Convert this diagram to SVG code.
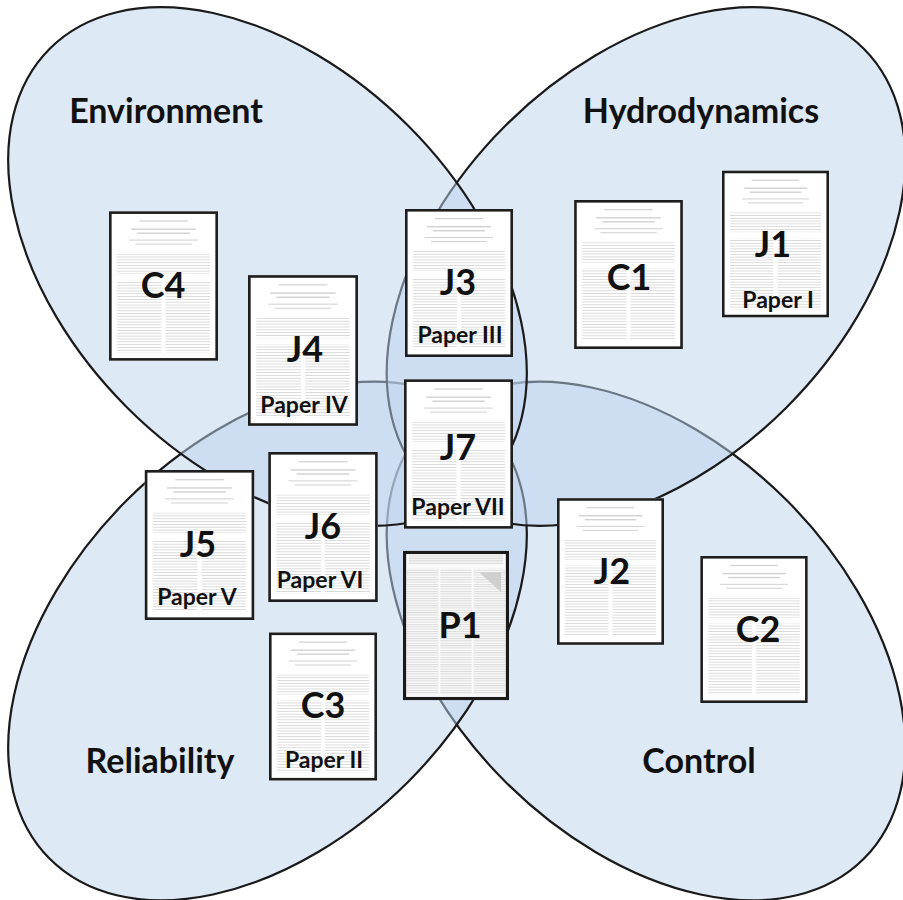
<svg xmlns="http://www.w3.org/2000/svg" xmlns:xlink="http://www.w3.org/1999/xlink" width="903" height="900" viewBox="0 0 903 900">
  <style>
    .set { fill: #bed3ee; fill-opacity: 0.5; stroke: #1a1a1a; stroke-width: 2.2; }
    .area { font-family: Lato, "Open Sans", "Liberation Sans", sans-serif; font-weight: bold; font-size: 34px; fill: #111; text-anchor: middle; }
    .pid { font-family: Lato, "Open Sans", "Liberation Sans", sans-serif; font-weight: bold; font-size: 36px; fill: #111; text-anchor: middle; }
    .pname { font-family: Lato, "Open Sans", "Liberation Sans", sans-serif; font-weight: bold; font-size: 23px; fill: #111; text-anchor: middle; }
    .frame { fill: none; stroke: #1e1e1e; stroke-width: 2.6; }
    .ink { fill: #b4b4b4; }
  </style>
  <defs>
    <pattern id="rows" width="4" height="2.8" patternUnits="userSpaceOnUse">
      <rect width="4" height="0.9" fill="#a8a8a8"/>
    </pattern>
    <pattern id="rowsDense" width="4" height="2.4" patternUnits="userSpaceOnUse">
      <rect width="4" height="1" fill="#a8a8a8"/>
    </pattern>
    <!-- generic two-column article page -->
    <symbol id="page" viewBox="0 0 108 148" width="108" height="148">
      <rect width="108" height="148" fill="#fff"/>
      <g class="ink" opacity="0.6">
        <rect x="30" y="9" width="48" height="1.2"/>
        <rect x="22" y="17" width="64" height="1.4"/>
        <rect x="28" y="21" width="52" height="1.4"/>
        <rect x="20" y="28" width="68" height="1"/>
        <rect x="26" y="32" width="56" height="1"/>
      </g>
      <rect x="8" y="42" width="92" height="20" fill="url(#rows)" opacity="0.45"/>
      <rect x="8" y="68" width="44" height="72" fill="url(#rows)" opacity="0.45"/>
      <rect x="56" y="68" width="44" height="72" fill="url(#rows)" opacity="0.45"/>
      <rect x="1.3" y="1.3" width="105.4" height="145.4" class="frame"/>
    </symbol>
    <!-- conference poster page -->
    <symbol id="poster" viewBox="0 0 108 152" width="108" height="152">
      <rect width="108" height="152" fill="#fafafa"/>
      <rect x="6" y="4" width="96" height="10" fill="url(#rowsDense)" opacity="0.5"/>
      <rect x="4" y="18" width="32" height="128" fill="url(#rowsDense)" opacity="0.4"/>
      <rect x="38" y="18" width="32" height="128" fill="url(#rowsDense)" opacity="0.4"/>
      <rect x="72" y="18" width="32" height="128" fill="url(#rowsDense)" opacity="0.4"/>
      <path d="M78 22 L100 22 L100 42 Z" fill="#cfcfcf"/>
      <rect x="1.6" y="1.6" width="104.8" height="148.8" fill="none" stroke="#1a1a1a" stroke-width="3.2"/>
    </symbol>
  </defs>

  <!-- research areas, drawn bottom to top -->
  <g id="areas">
    <g id="area-control">
      <ellipse class="set" cx="646" cy="641" rx="308" ry="199" transform="rotate(45 646 641)"/>
    </g>
    <g id="area-reliability">
      <ellipse class="set" cx="267.5" cy="641" rx="308" ry="199" transform="rotate(-45 267.5 641)"/>
    </g>
    <g id="area-hydrodynamics">
      <ellipse class="set" cx="646" cy="266.5" rx="308" ry="199" transform="rotate(-45 646 266.5)"/>
    </g>
    <g id="area-environment">
      <ellipse class="set" cx="267.5" cy="266.5" rx="308" ry="199" transform="rotate(45 267.5 266.5)"/>
    </g>
  </g>

  <g id="area-labels">
    <text class="area" x="166" y="123">Environment</text>
    <text class="area" x="701" y="123">Hydrodynamics</text>
    <text class="area" x="160" y="773">Reliability</text>
    <text class="area" x="699" y="773">Control</text>
  </g>

  <!-- no connectors in this figure -->
  <g id="connectors"/>

  <g id="papers">
    <g id="paper-C4">
      <use href="#page" x="109" y="211" width="109" height="150"/>
      <text class="pid" x="163" y="298">C4</text>
    </g>
    <g id="paper-J4">
      <use href="#page" x="248" y="275" width="110" height="151"/>
      <text class="pid" x="305" y="362">J4</text>
      <text class="pname" x="304" y="413">Paper IV</text>
    </g>
    <g id="paper-J3">
      <use href="#page" x="405" y="209" width="108" height="148"/>
      <text class="pid" x="458" y="295">J3</text>
      <text class="pname" x="460" y="343">Paper III</text>
    </g>
    <g id="paper-J7">
      <use href="#page" x="404" y="377" width="109" height="154"/>
      <text class="pid" x="458" y="460">J7</text>
      <text class="pname" x="458" y="515">Paper VII</text>
    </g>
    <g id="paper-C1">
      <use href="#page" x="574" y="200" width="109" height="149"/>
      <text class="pid" x="629" y="290">C1</text>
    </g>
    <g id="paper-J1">
      <use href="#page" x="722" y="170" width="107" height="148"/>
      <text class="pid" x="773" y="257">J1</text>
      <text class="pname" x="778" y="308">Paper I</text>
    </g>
    <g id="paper-J5">
      <use href="#page" x="144" y="470" width="111" height="150"/>
      <text class="pid" x="198" y="557">J5</text>
      <text class="pname" x="197" y="605">Paper V</text>
    </g>
    <g id="paper-J6">
      <use href="#page" x="268" y="452" width="110" height="150"/>
      <text class="pid" x="323" y="539">J6</text>
      <text class="pname" x="320" y="588">Paper VI</text>
    </g>
    <g id="paper-C3">
      <use href="#page" x="269" y="632" width="108" height="149"/>
      <text class="pid" x="323" y="718">C3</text>
      <text class="pname" x="324" y="768">Paper II</text>
    </g>
    <g id="paper-P1">
      <use href="#poster" x="403" y="550" width="106" height="151"/>
      <text class="pid" x="460" y="638">P1</text>
    </g>
    <g id="paper-J2">
      <use href="#page" x="557" y="497" width="107" height="149"/>
      <text class="pid" x="612" y="584">J2</text>
    </g>
    <g id="paper-C2">
      <use href="#page" x="700" y="556" width="108" height="147"/>
      <text class="pid" x="758" y="642">C2</text>
    </g>
  </g>
</svg>
